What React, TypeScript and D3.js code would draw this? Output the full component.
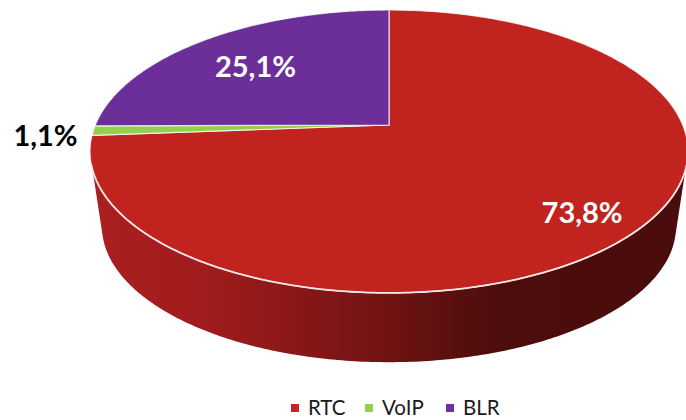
import React from "react";
import * as d3 from "d3";

const categories = ["RTC", "VoIP", "BLR"];
const shares = [73.8, 1.1, 25.1];
const shareLabels = ["73,8%", "1,1%", "25,1%"];
const sliceColors = ["#c1231f", "#92d050", "#6c2f9a"];
const legendColors = ["#c8232a", "#92d050", "#7030a0"];
const labelColors = ["#ffffff", "#000000", "#ffffff"];
const labelRadii = [0.805, 1.16, 0.7];
const labelShift = [7, 7, 6];
const legendX = [291, 365, 446];

const W = 686;
const H = 420;
const CX = 389;
const CY = 125;
const RX = 293.7;
const RY = 136.5;
const K = -0.187;

const project = (angle: number, r = 1, scale = 1, dy = 0): [number, number] => {
  const u = Math.sin(angle) * r * scale;
  const v = -Math.cos(angle) * r * scale;
  const d = 1 + (K * v) / scale;
  return [CX + (RX * u) / d, CY + (RY * v) / d + dy];
};

const sampled = (a0: number, a1: number, f: (a: number) => [number, number]) => {
  const n = Math.max(2, Math.ceil(Math.abs(a1 - a0) * 80));
  return d3.range(n + 1).map((i) => f(a0 + ((a1 - a0) * i) / n));
};

const line = d3.line<[number, number]>();
const pie = d3.pie<number>().sort(null)(shares);
const deg = Math.PI / 180;
const wallFrom = 108 * deg;
const wallTo = 252 * deg;
const LOWER_SCALE = 0.96;
const LOWER_DY = 76;

export default function App() {
  const wallPts = [
    ...sampled(wallFrom, wallTo, (a) => project(a)),
    ...sampled(255 * deg, 105 * deg, (a) => project(a, 1, LOWER_SCALE, LOWER_DY)),
  ];
  return (
    <svg
      width={W}
      height={H}
      viewBox={`0 0 ${W} ${H}`}
      style={{ position: "absolute", left: 0, top: 0, fontFamily: "Lato, sans-serif" }}
    >
      <defs>
        <linearGradient id="wall" gradientUnits="userSpaceOnUse" x1={90} x2={688} y1={0} y2={0}>
          <stop offset="0" stopColor="#ab1f20" />
          <stop offset="0.2" stopColor="#a01c1c" />
          <stop offset="0.45" stopColor="#791414" />
          <stop offset="0.68" stopColor="#4c0d0c" />
          <stop offset="1" stopColor="#4a0c0c" />
        </linearGradient>
      </defs>
      <path d={line(wallPts) + "Z"} fill="url(#wall)" />
      {pie.map((s, i) => (
        <path
          key={categories[i]}
          d={line([[CX, CY], ...sampled(s.startAngle, s.endAngle, (a) => project(a))]) + "Z"}
          fill={sliceColors[i]}
          stroke="#ffffff"
          strokeOpacity={0.75}
          strokeWidth={1.2}
          strokeLinejoin="round"
        />
      ))}
      <path
        d={line(sampled(wallFrom - 2 * deg, wallTo + 2 * deg, (a) => project(a))) ?? ""}
        fill="none"
        stroke="#f4e6e4"
        strokeWidth={1.8}
      />
      {pie.map((s, i) => {
        const [x, y] = project((s.startAngle + s.endAngle) / 2, labelRadii[i]);
        return (
          <text
            key={categories[i]}
            x={x}
            y={y + labelShift[i]}
            textAnchor="middle"
            dominantBaseline="middle"
            fontSize={29}
            fontWeight={700}
            fill={labelColors[i]}
          >
            {shareLabels[i]}
          </text>
        );
      })}
      {categories.map((c, i) => (
        <g key={c}>
          <rect x={legendX[i]} y={404} width={8} height={8} fill={legendColors[i]} />
          <text x={legendX[i] + 17} y={415} fontSize={20.5} fill="#1a1a1a">
            {c}
          </text>
        </g>
      ))}
    </svg>
  );
}
